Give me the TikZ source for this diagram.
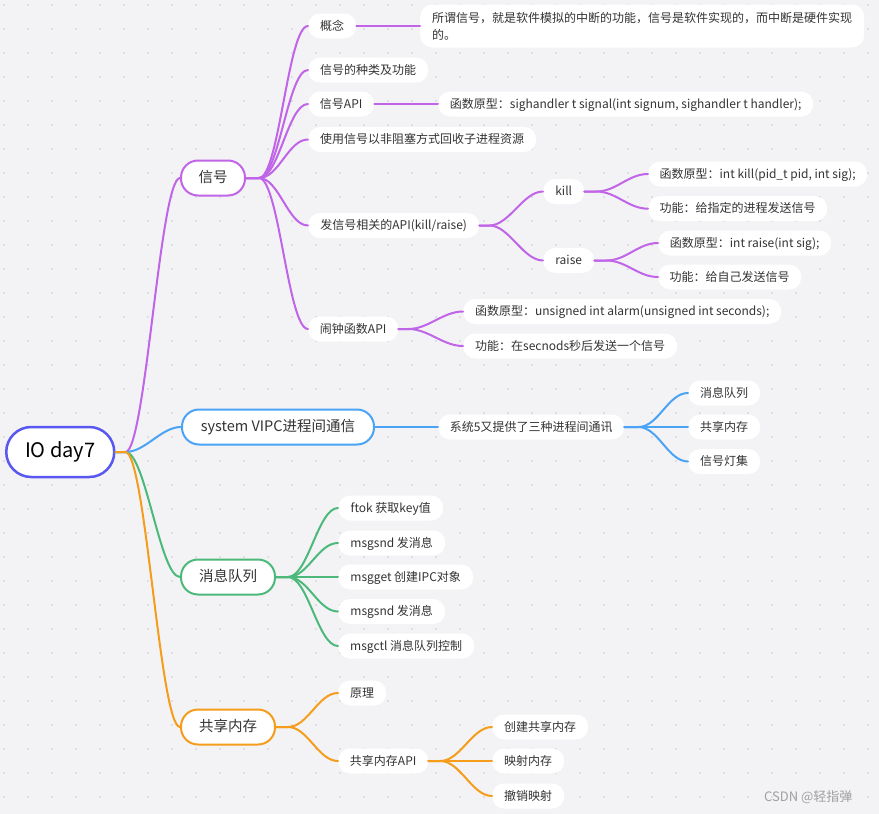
\documentclass[tikz,border=0pt]{standalone}
\usepackage{fontspec}
\setmainfont{Noto Sans CJK SC}
\definecolor{bg}{RGB}{243,243,246}
\definecolor{dotc}{RGB}{200,200,206}
\definecolor{txt}{RGB}{51,51,51}
\definecolor{wmc}{RGB}{160,160,160}
\definecolor{cRoot}{RGB}{88,88,240}
\definecolor{cPur}{RGB}{192,100,232}
\definecolor{cBlu}{RGB}{74,163,245}
\definecolor{cGrn}{RGB}{76,185,122}
\definecolor{cOra}{RGB}{245,156,26}
\newcommand\mmlink[4]{\draw[lnk,#1] (#2.east) -- ++(#4,0) .. controls +(20,0) and +(-20,0) .. (#3.west);}
\begin{document}
\begin{tikzpicture}[x=1pt,y=-1pt,
  leaf/.style={fill=white, rounded corners=12pt, minimum height=25pt, inner xsep=4pt, inner ysep=0pt,
    text height=10pt, text depth=2pt, text=txt, font=\fontsize{12}{14}\selectfont, anchor=west},
  topic/.style={draw, fill=white, line width=2pt, rounded corners=17pt, minimum height=35pt, inner xsep=6pt,
    inner ysep=0pt, text height=12pt, text depth=2.5pt, text=txt, font=\fontsize{14.5}{17}\selectfont, anchor=west},
  rootbox/.style={draw=cRoot, fill=white, line width=2.5pt, rounded corners=25pt, minimum height=50pt,
    minimum width=108pt, inner xsep=6pt, text height=15pt, text depth=4pt, text=black,
    font=\fontsize{20}{24}\selectfont, anchor=west},
  lnk/.style={line width=2pt, line cap=round},
]
\fill[bg] (0,0) rectangle (879,814);
\useasboundingbox (0,0) rectangle (879,814);
\foreach \i in {0,...,36} {\foreach \j in {0,...,33} {\fill[dotc] (4+24*\i,5+24*\j) circle (0.9pt);}}

% root and main topics
\node[rootbox] (root) at (5,452) {IO day7};
\node[topic, draw=cPur, minimum width=64pt] (xh) at (180,178) {信号};
\node[topic, draw=cBlu, minimum width=192pt] (vipc) at (181,427) {system VIPC进程间通信};
\node[topic, draw=cGrn, minimum width=94pt] (mq) at (180,577) {消息队列};
\node[topic, draw=cOra, minimum width=94pt] (shm) at (180,727) {共享内存};

% signal branch
\node[leaf, minimum width=48pt] (gn) at (308,26) {概念};
\node[leaf, minimum width=120pt] (zl) at (308,70) {信号的种类及功能};
\node[leaf, minimum width=66pt] (api) at (308,104) {信号API};
\node[leaf, minimum width=228pt] (fzs) at (308,139.5) {使用信号以非阻塞方式回收子进程资源};
\node[leaf, minimum width=171pt] (fxh) at (308,225.5) {发信号相关的API(kill/raise)};
\node[leaf, minimum width=90pt] (nz) at (308,329) {闹钟函数API};
\node[fill=white, rounded corners=12pt, minimum height=43pt, inner xsep=12pt, inner ysep=3pt, text width=420pt,
  align=left, text=txt, font=\fontsize{12}{17}\selectfont, anchor=west] (gnd) at (420,26)
  {所谓信号，就是软件模拟的中断的功能，信号是软件实现的，而中断是硬件实现\\的。};
\node[leaf, minimum width=375pt] (apid) at (438,104) {函数原型：sighandler t signal(int signum, sighandler t handler);};
\node[leaf, minimum width=41pt] (kill) at (543,191.5) {kill};
\node[leaf, minimum width=51pt] (raise) at (543,260.5) {raise};
\node[leaf, minimum width=219pt] (k1) at (648,174) {函数原型：int kill(pid\_t pid, int sig);};
\node[leaf, minimum width=179pt] (k2) at (648,208.7) {功能：给指定的进程发送信号};
\node[leaf, minimum width=173pt] (r1) at (658,243) {函数原型：int raise(int sig);};
\node[leaf, minimum width=143pt] (r2) at (658,277) {功能：给自己发送信号};
\node[leaf, minimum width=318pt] (a1) at (463,311.5) {函数原型：unsigned int alarm(unsigned int seconds);};
\node[leaf, minimum width=214pt] (a2) at (463,346) {功能：在secnods秒后发送一个信号};

% system V branch
\node[leaf, minimum width=186pt] (s5) at (438,427) {系统5又提供了三种进程间通讯};
\node[leaf, minimum width=72pt] (b1) at (688,393) {消息队列};
\node[leaf, minimum width=72pt] (b2) at (688,427) {共享内存};
\node[leaf, minimum width=72pt] (b3) at (688,461.5) {信号灯集};

% message queue branch
\node[leaf, minimum width=105pt] (g1) at (338,508) {ftok 获取key值};
\node[leaf, minimum width=107pt] (g2) at (338,543) {msgsnd 发消息};
\node[leaf, minimum width=135pt] (g3) at (338,577) {msgget 创建IPC对象};
\node[leaf, minimum width=107pt] (g4) at (338,611.5) {msgsnd 发消息};
\node[leaf, minimum width=136pt] (g5) at (338,646) {msgctl 消息队列控制};

% shared memory branch
\node[leaf, minimum width=48pt] (o1) at (338,693) {原理};
\node[leaf, minimum width=90pt] (o2) at (338,761) {共享内存API};
\node[leaf, minimum width=96pt] (o3) at (492,727) {创建共享内存};
\node[leaf, minimum width=72pt] (o4) at (492,761) {映射内存};
\node[leaf, minimum width=72pt] (o5) at (492,796) {撤销映射};

\node[anchor=west, inner sep=0pt, text=wmc, font=\fontsize{13}{15}\selectfont] (wm) at (764,797) {CSDN @轻指弹};

% connectors from root
\mmlink{cPur}{root}{xh}{10}
\mmlink{cBlu}{root}{vipc}{10}
\mmlink{cGrn}{root}{mq}{10}
\mmlink{cOra}{root}{shm}{10}

% signal connectors
\mmlink{cPur}{xh}{gn}{13}
\mmlink{cPur}{xh}{zl}{13}
\mmlink{cPur}{xh}{api}{13}
\mmlink{cPur}{xh}{fzs}{13}
\mmlink{cPur}{xh}{fxh}{13}
\mmlink{cPur}{xh}{nz}{13}
\draw[lnk,cPur] (gn.east) -- (gnd.west);
\draw[lnk,cPur] (api.east) -- (apid.west);
\mmlink{cPur}{fxh}{kill}{10}
\mmlink{cPur}{fxh}{raise}{10}
\mmlink{cPur}{kill}{k1}{12}
\mmlink{cPur}{kill}{k2}{12}
\mmlink{cPur}{raise}{r1}{12}
\mmlink{cPur}{raise}{r2}{12}
\mmlink{cPur}{nz}{a1}{10}
\mmlink{cPur}{nz}{a2}{10}

% system V connectors
\draw[lnk,cBlu] (vipc.east) -- (s5.west);
\mmlink{cBlu}{s5}{b1}{14}
\mmlink{cBlu}{s5}{b2}{14}
\mmlink{cBlu}{s5}{b3}{14}

% message queue connectors
\mmlink{cGrn}{mq}{g1}{12}
\mmlink{cGrn}{mq}{g2}{12}
\mmlink{cGrn}{mq}{g3}{12}
\mmlink{cGrn}{mq}{g4}{12}
\mmlink{cGrn}{mq}{g5}{12}

% shared memory connectors
\mmlink{cOra}{shm}{o1}{12}
\mmlink{cOra}{shm}{o2}{12}
\mmlink{cOra}{o2}{o3}{12}
\mmlink{cOra}{o2}{o4}{12}
\mmlink{cOra}{o2}{o5}{12}
\end{tikzpicture}
\end{document}
